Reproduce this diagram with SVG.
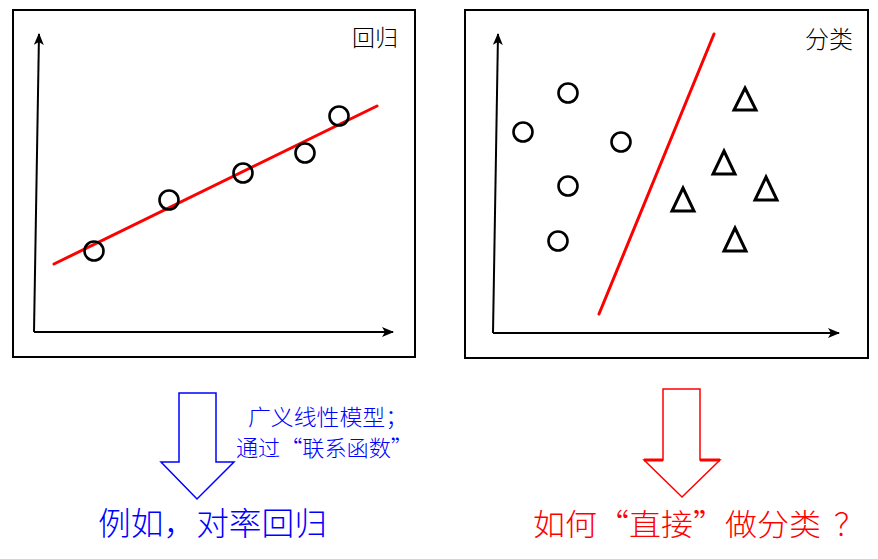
<svg xmlns="http://www.w3.org/2000/svg" width="878" height="559" viewBox="0 0 878 559">
<style>
.frame{fill:#fff;stroke:#000;stroke-width:2}
.axis{fill:none;stroke:#000;stroke-width:2}
.fit{fill:none;stroke:#f00;stroke-width:3;stroke-linecap:round}
.pt{fill:none;stroke:#000;stroke-width:2.6}
.tri{fill:none;stroke:#000;stroke-width:3;stroke-linejoin:miter}
.lbl{font-family:"Noto Sans CJK SC","Liberation Sans",sans-serif;font-weight:300}
</style>
<defs>
<marker id="ah" viewBox="0 0 12 10" refX="11" refY="5" markerWidth="12" markerHeight="10" markerUnits="userSpaceOnUse" orient="auto">
<path d="M0,0 L12,5 L0,10 L3,5 Z" fill="#000"/>
</marker>
</defs>
<rect width="878" height="559" fill="#fff"/>

<g id="panel-regression">
<rect class="frame" x="13" y="10" width="402" height="347"/>
<g id="axes-regression">
<line class="axis" x1="34" y1="332" x2="39" y2="34" marker-end="url(#ah)"/>
<line class="axis" x1="34" y1="332" x2="393" y2="332" marker-end="url(#ah)"/>
</g>
<text class="lbl" x="352" y="46" font-size="23" fill="#000">回归</text>
<line class="fit" x1="54" y1="264" x2="377" y2="106"/>
<circle class="pt" cx="94" cy="251" r="9.5"/>
<circle class="pt" cx="169" cy="200" r="9.5"/>
<circle class="pt" cx="243" cy="173" r="9.5"/>
<circle class="pt" cx="305" cy="153" r="9.5"/>
<circle class="pt" cx="339" cy="116" r="9.5"/>
</g>

<g id="panel-classification">
<rect class="frame" x="465" y="10" width="403" height="348"/>
<g id="axes-classification">
<line class="axis" x1="493" y1="333" x2="498" y2="34" marker-end="url(#ah)"/>
<line class="axis" x1="493" y1="333" x2="839" y2="333" marker-end="url(#ah)"/>
</g>
<text class="lbl" x="805" y="48" font-size="24" fill="#000">分类</text>
<line class="fit" x1="599" y1="314" x2="714" y2="34"/>
<circle class="pt" cx="568" cy="93" r="9.5"/>
<circle class="pt" cx="523" cy="132" r="9.5"/>
<circle class="pt" cx="621" cy="142" r="9.5"/>
<circle class="pt" cx="568" cy="186" r="9.5"/>
<circle class="pt" cx="558" cy="241" r="9.5"/>
<path class="tri" d="M745,88 L756,110 L734,110 Z"/>
<path class="tri" d="M724,151 L735,174 L713,174 Z"/>
<path class="tri" d="M766,177 L777,200 L755,200 Z"/>
<path class="tri" d="M683,188 L694,211 L672,211 Z"/>
<path class="tri" d="M735,228 L746,251 L724,251 Z"/>
</g>

<g id="connectors">
<path id="arrow-blue" d="M179,393 L216,393 L216,462 L234,462 L197,499 L161,462 L179,462 Z" fill="#fff" stroke="#0000ff" stroke-width="1.5"/>
<path id="arrow-red" d="M663,389 L700,389 L700,460 L720,460 L682,497 L644,460 L663,460 Z" fill="#fff" stroke="#ff0000" stroke-width="1.5"/>
<path d="M644,460 L663,460 M700,460 L720,460" fill="none" stroke="#ff0000" stroke-width="3"/>
</g>

<g id="note-blue">
<text class="lbl" x="248" y="425" font-size="22" fill="#0000ff" textLength="160" lengthAdjust="spacingAndGlyphs">广义线性模型；</text>
<text class="lbl" x="236" y="456" font-size="22" fill="#0000ff" textLength="177" lengthAdjust="spacingAndGlyphs">通过“联系函数”</text>
</g>
<g id="label-blue">
<text class="lbl" x="98" y="535" font-size="32" fill="#0000ff" textLength="229" lengthAdjust="spacingAndGlyphs">例如，对率回归</text>
</g>
<g id="label-red">
<text class="lbl" font-size="30" fill="#ff0000"><tspan x="533" y="535" textLength="288" lengthAdjust="spacingAndGlyphs">如何“直接”做分类</tspan><tspan x="834" y="535">？</tspan></text>
</g>
</svg>
